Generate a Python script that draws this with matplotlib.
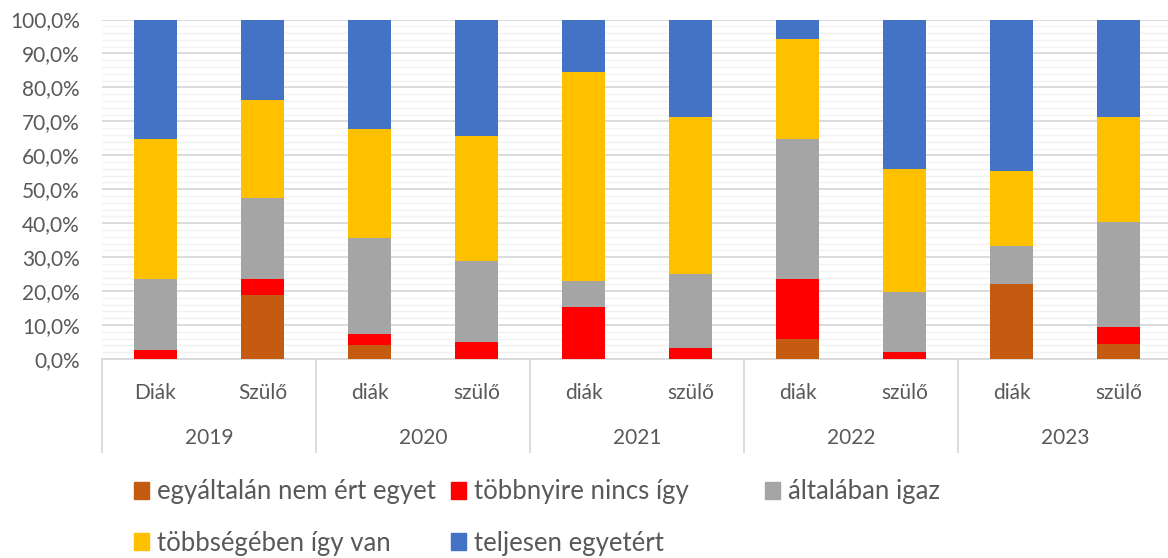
import matplotlib
matplotlib.use("Agg")
from matplotlib import pyplot as plt
from matplotlib.patches import Patch
import numpy as np

# category labels
groups = ["2019", "2020", "2021", "2022", "2023"]
sub_labels = ["Diák", "Szülő", "diák", "szülő", "diák", "szülő", "diák", "szülő", "diák", "szülő"]

# answer shares (%), one value per bar
egyaltalan = [0.0, 18.9, 4.1, 0.0, 0.0, 0.0, 5.9, 0.0, 22.0, 4.4]
tobbnyire = [2.7, 4.7, 3.3, 5.1, 15.2, 3.3, 17.7, 2.0, 0.0, 5.0]
altalaban = [20.8, 23.9, 28.1, 23.7, 7.8, 21.7, 41.3, 17.8, 11.2, 31.0]
tobbsegeben = [41.2, 28.7, 32.3, 37.0, 61.6, 46.3, 29.4, 36.2, 22.2, 30.8]
teljesen = [35.3, 23.8, 32.2, 34.2, 15.4, 28.7, 5.7, 44.0, 44.6, 28.8]

series = [
    ("egyáltalán nem ért egyet", egyaltalan, "#C55A11"),
    ("többnyire nincs így", tobbnyire, "#FF0000"),
    ("általában igaz", altalaban, "#A5A5A5"),
    ("többségében így van", tobbsegeben, "#FFC000"),
    ("teljesen egyetért", teljesen, "#4472C4"),
]

plt.rcParams["font.family"] = ["Lato", "DejaVu Sans"]
txt = "#595959"
grid_c = "#D9D9D9"

fig = plt.figure(figsize=(11.68, 5.58), dpi=100)
ax = fig.add_axes([102 / 1168, 199 / 558, 1066 / 1168, 339.5 / 558])

x = np.arange(len(sub_labels))
bottom = np.zeros(len(x))
for name, vals, col in series:
    ax.bar(x, vals, width=0.4, bottom=bottom, color=col, edgecolor="none", zorder=3)
    bottom += np.array(vals)

ax.set_xlim(-0.5, 9.5 - 4 / 107)
ax.set_ylim(0, 100)
ax.set_yticks(np.arange(0, 101, 10))
ax.set_yticklabels([f"{v:.1f}%".replace(".", ",") for v in range(0, 101, 10)],
                   fontsize=15, color=txt)
ax.set_yticks(np.arange(0, 101, 2), minor=True)
ax.tick_params(axis="y", which="both", length=0, pad=16)
ax.grid(axis="y", which="major", color=grid_c, lw=1.3, zorder=0)
ax.grid(axis="y", which="minor", color="#F2F2F2", lw=1.0, zorder=0)
ax.set_xticks([])
for s in ["left", "right", "top"]:
    ax.spines[s].set_visible(False)
ax.spines["bottom"].set_color(grid_c)
ax.spines["bottom"].set_linewidth(1.3)

# two-level category axis
tr = ax.get_xaxis_transform()
for i, lab in enumerate(sub_labels):
    ax.text(i, -0.10, lab, transform=tr, ha="center", va="center", fontsize=15, color=txt)
for j, g in enumerate(groups):
    ax.text(2 * j + 0.5, -0.233, g, transform=tr, ha="center", va="center", fontsize=15, color=txt)
for xs in [-0.5, 1.5, 3.5, 5.5, 7.5, 9.5]:
    ax.plot([xs, xs], [0, -0.274], transform=tr, color=grid_c, lw=1.3, clip_on=False)

# legend, laid out like the original (row-wise, fixed column slots)
pos = [(134, 492), (451, 492), (765, 492), (134, 543), (451, 543)]
for (name, vals, col), (px, py) in zip(series, pos):
    fig.legend([Patch(color=col)], [name], loc="center left",
               bbox_to_anchor=(px / 1168, (558 - py) / 558), frameon=False,
               fontsize=18.5, labelcolor=txt, borderpad=0, borderaxespad=0,
               handlelength=0.6, handleheight=0.6, handletextpad=0.3)

fig.savefig("out.png", dpi=100)
